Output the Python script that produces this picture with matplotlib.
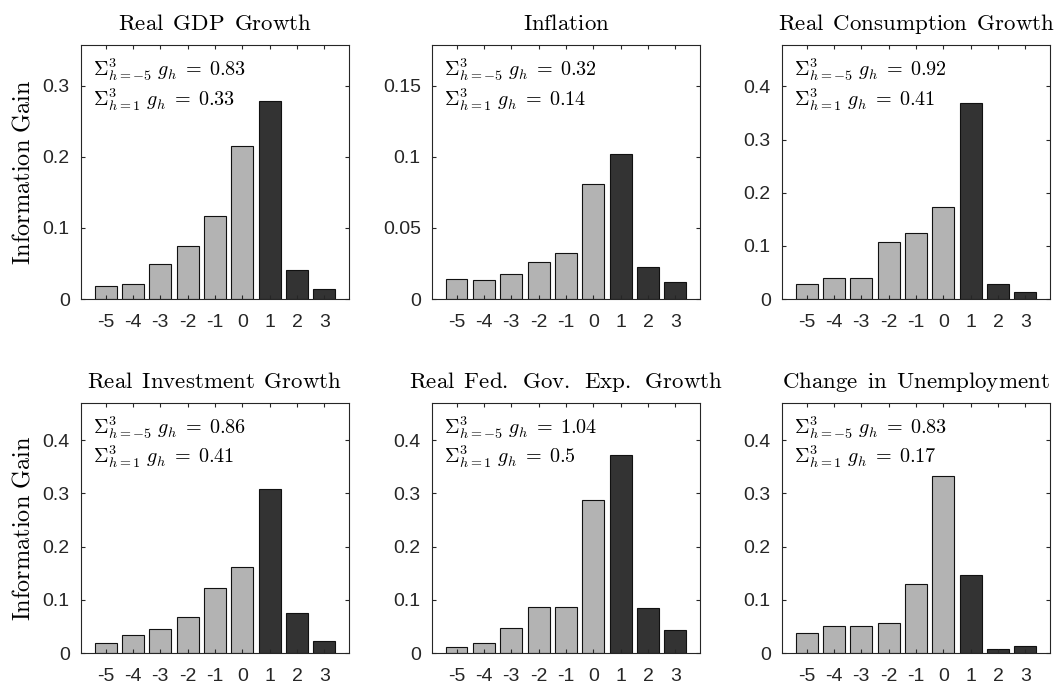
import numpy as np
import matplotlib.pyplot as plt

plt.rcParams['mathtext.fontset'] = 'cm'
plt.rcParams['font.family'] = ['Liberation Sans', 'DejaVu Sans']

horizons = [-5, -4, -3, -2, -1, 0, 1, 2, 3]
tick_labels = ['-5', '-4', '-3', '-2', '-1', '0', '1', '2', '3']

titles = ['Real GDP Growth', 'Inflation', 'Real Consumption Growth',
          'Real Investment Growth', 'Real Fed. Gov. Exp. Growth',
          'Change in Unemployment']

gdp = [0.019, 0.0215, 0.049, 0.075, 0.117, 0.215, 0.279, 0.041, 0.014]
inflation = [0.0138, 0.0133, 0.0175, 0.0262, 0.0327, 0.0806, 0.1019, 0.0222, 0.0117]
consumption = [0.028, 0.0388, 0.0388, 0.108, 0.124, 0.174, 0.369, 0.029, 0.013]
investment = [0.020, 0.035, 0.0456, 0.0675, 0.123, 0.1625, 0.308, 0.0756, 0.0238]
fedgov = [0.0125, 0.020, 0.048, 0.086, 0.087, 0.287, 0.372, 0.084, 0.044]
unemployment = [0.038, 0.051, 0.052, 0.056, 0.129, 0.3325, 0.147, 0.0075, 0.014]

sum_all = ['0.83', '0.32', '0.92', '0.86', '1.04', '0.83']
sum_fwd = ['0.33', '0.14', '0.41', '0.41', '0.5', '0.17']

ylims = [0.357, 0.1787, 0.478, 0.47, 0.47, 0.47]
yticks = [[0, 0.1, 0.2, 0.3], [0, 0.05, 0.1, 0.15], [0, 0.1, 0.2, 0.3, 0.4],
          [0, 0.1, 0.2, 0.3, 0.4], [0, 0.1, 0.2, 0.3, 0.4], [0, 0.1, 0.2, 0.3, 0.4]]
ytick_labels = [['0', '0.1', '0.2', '0.3'], ['0', '0.05', '0.1', '0.15'],
                ['0', '0.1', '0.2', '0.3', '0.4']] + [['0', '0.1', '0.2', '0.3', '0.4']] * 3

series = [gdp, inflation, consumption, investment, fedgov, unemployment]

light = '#b3b3b3'
dark = '#333333'
axcol = '#262626'

fig = plt.figure(figsize=(10.6, 6.86), dpi=100)

lefts = [0.0764, 0.4075, 0.7377]
rows = [(0.5641, 0.3703), (0.0477, 0.3653)]

for i, vals in enumerate(series):
    r, c = divmod(i, 3)
    bottom, height = rows[r]
    ax = fig.add_axes([lefts[c], bottom, 0.2528, height])
    colors = [light if h <= 0 else dark for h in horizons]
    ax.bar(horizons, vals, width=0.8, color=colors, edgecolor='#111111', linewidth=0.8)
    ax.set_xlim(-5.9, 3.9)
    ax.set_ylim(0, ylims[i])
    ax.set_xticks(horizons)
    ax.set_xticklabels(tick_labels)
    ax.set_yticks(yticks[i])
    ax.set_yticklabels(ytick_labels[i])
    ax.tick_params(direction='in', length=3, width=0.8, top=True, right=True,
                   labelsize=14, colors=axcol, labelcolor=axcol)
    ax.tick_params(axis='x', pad=10.5)
    ax.tick_params(axis='y', pad=8)
    for s in ax.spines.values():
        s.set_color(axcol)
        s.set_linewidth(0.8)

    # titles placed on a common baseline, slightly wider word gaps
    t = titles[i].replace(' ', r'\ \,')
    ax.annotate(r'$\mathrm{' + t + '}$', xy=(0.5, 1), xycoords='axes fraction',
                xytext=(0, 10.6), textcoords='offset points',
                ha='center', va='baseline', fontsize=16.5, annotation_clip=False)
    if c == 0:
        ax.set_ylabel(r'$\mathrm{Information\ Gain}$', fontsize=17.5, labelpad=6)

    ax.annotate(r'$\Sigma_{h=-5}^{3}\ g_h\;=\;' + sum_all[i] + '$',
                xy=(0, 1), xycoords='axes fraction', xytext=(8.5, -22.5),
                textcoords='offset points', fontsize=14.5, ha='left', va='baseline')
    ax.annotate(r'$\Sigma_{h=1}^{3}\ g_h\;=\;' + sum_fwd[i] + '$',
                xy=(0, 1), xycoords='axes fraction', xytext=(8.5, -43.5),
                textcoords='offset points', fontsize=14.5, ha='left', va='baseline')

fig.savefig('out.png', dpi=100)
